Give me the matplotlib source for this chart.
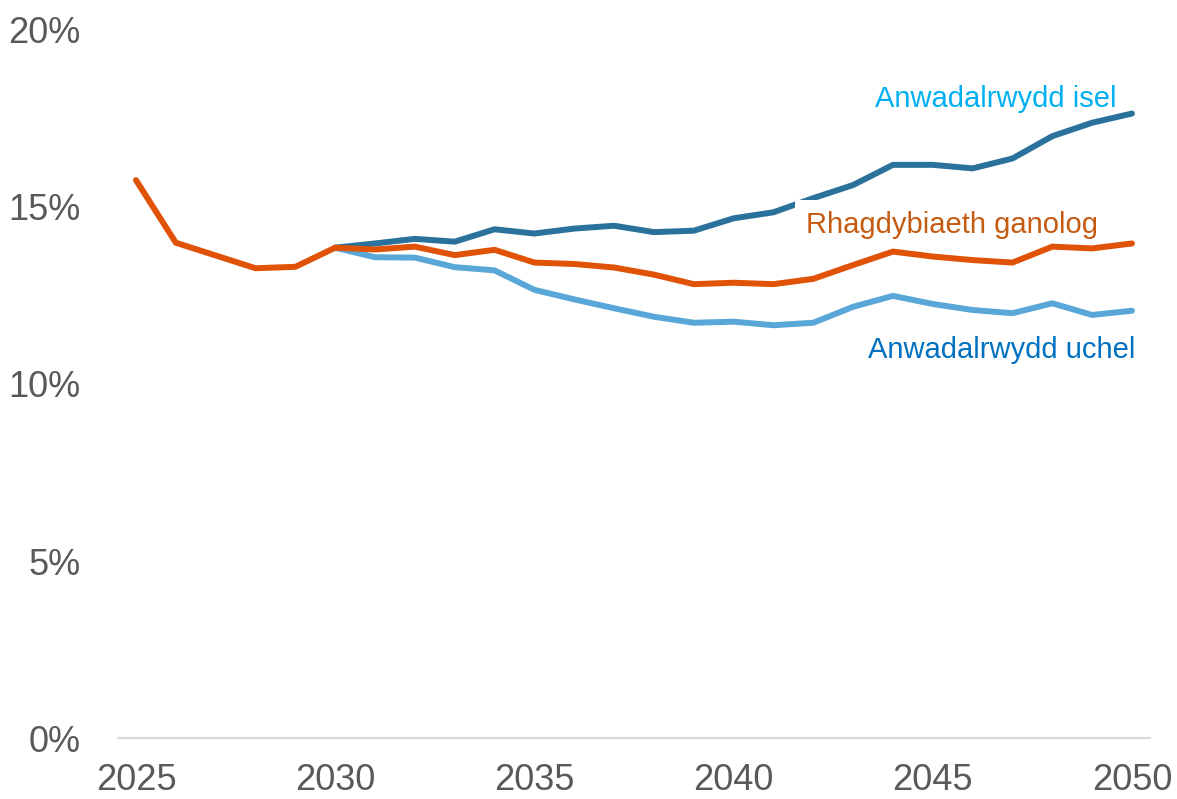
import matplotlib
matplotlib.use("Agg")
from matplotlib import pyplot as plt
from matplotlib.ticker import FuncFormatter

plt.rcParams['font.family'] = ['Liberation Sans', 'DejaVu Sans']

# years on the x axis
years = list(range(2025, 2051))

# central assumption (orange)
ganolog = [15.76, 13.99, 13.63, 13.27, 13.31, 13.85, 13.80, 13.88, 13.64, 13.79,
           13.43, 13.39, 13.29, 13.09, 12.82, 12.86, 12.82, 12.97, 13.36, 13.74,
           13.60, 13.50, 13.43, 13.88, 13.83, 13.97]
# low volatility (dark blue), starts splitting off in 2030
isel = [None, None, None, None, None, 13.85, 13.97, 14.10, 14.02, 14.37,
        14.25, 14.39, 14.47, 14.29, 14.33, 14.68, 14.85, 15.25, 15.62, 16.19,
        16.19, 16.09, 16.37, 17.00, 17.38, 17.64]
# high volatility (light blue)
uchel = [None, None, None, None, None, 13.85, 13.58, 13.57, 13.30, 13.21,
         12.66, 12.39, 12.14, 11.90, 11.73, 11.76, 11.66, 11.73, 12.18, 12.49,
         12.26, 12.09, 12.00, 12.28, 11.95, 12.07]

def only_vals(xs, ys):
    px = [x for x, y in zip(xs, ys) if y is not None]
    py = [y for y in ys if y is not None]
    return px, py

fig = plt.figure(figsize=(11.77, 7.99), dpi=100)
ax = fig.add_axes([0.1003, 0.0763, 0.8767, 0.8862])

x, y = only_vals(years, uchel)
ax.plot(x, y, color='#59A7D8', lw=4.3, solid_capstyle='round', zorder=2)
x, y = only_vals(years, isel)
ax.plot(x, y, color='#2A729C', lw=4.3, solid_capstyle='round', zorder=3)
ax.plot(years, ganolog, color='#E05206', lw=4.3, solid_capstyle='round', zorder=4)

ax.set_xlim(2024.55, 2050.45)
ax.set_ylim(0, 20)
ax.set_xticks([2025, 2030, 2035, 2040, 2045, 2050])
ax.set_yticks([0, 5, 10, 15, 20])
ax.yaxis.set_major_formatter(FuncFormatter(lambda v, p: '%d%%' % v))

for s in ['top', 'right', 'left']:
    ax.spines[s].set_visible(False)
ax.spines['bottom'].set_color('#D9D9D9')
ax.spines['bottom'].set_linewidth(1.5)
ax.tick_params(axis='both', length=0, labelsize=26, colors='#595959')
ax.tick_params(axis='y', pad=27)
ax.tick_params(axis='x', pad=18)

# series labels (the middle one sits between the blue and orange lines,
# its white box hides a bit of the dark blue line like the original)
ax.text(2049.6, 18.05, 'Anwadalrwydd isel', color='#00B0F0', fontsize=21,
        ha='right', va='center', zorder=5)
ax.text(2049.15, 14.49, 'Rhagdybiaeth ganolog', color='#C55A11', fontsize=21,
        ha='right', va='center', zorder=3.5,
        bbox=dict(facecolor='white', edgecolor='none', pad=8))
ax.text(2050.08, 10.96, 'Anwadalrwydd uchel', color='#0070C0', fontsize=21,
        ha='right', va='center', zorder=5)

fig.savefig('out.png', dpi=100)
